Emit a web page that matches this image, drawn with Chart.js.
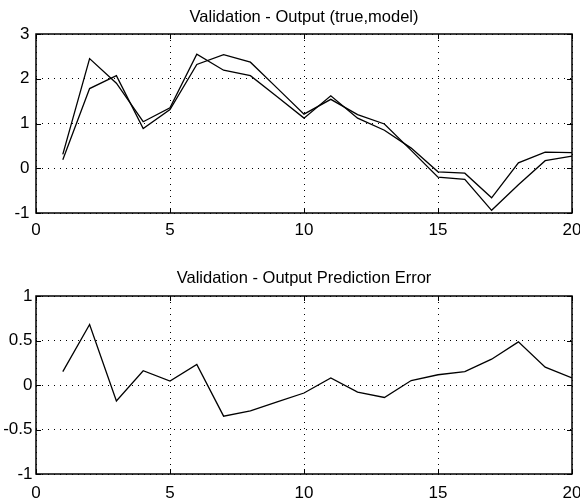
<!DOCTYPE html>
<html>
<head>
<meta charset="utf-8">
<script src="https://cdn.jsdelivr.net/npm/chart.js@4"></script>
<style>
  body { margin: 0; background: #fff; }
  canvas { position: absolute; left: 0; }
  #outChart { top: 0; }
  #errChart { top: 250px; }
</style>
</head>
<body>
<canvas id="outChart" width="580" height="250"></canvas>
<canvas id="errChart" width="580" height="249"></canvas>
<script>
const samples = [1, 2, 3, 4, 5, 6, 7, 8, 9, 10, 11, 12, 13, 14, 15, 16, 17, 18, 19, 20];
const trueOut = [0.31, 2.45, 1.90, 1.04, 1.35, 2.55, 2.19, 2.07, 1.60, 1.12, 1.62, 1.12, 0.85, 0.45, -0.08, -0.11, -0.66, 0.12, 0.36, 0.35];
const modelOut = [0.19, 1.78, 2.07, 0.89, 1.31, 2.32, 2.54, 2.37, 1.79, 1.21, 1.54, 1.20, 0.99, 0.40, -0.20, -0.25, -0.94, -0.37, 0.17, 0.27];
const predError = [0.15, 0.68, -0.18, 0.16, 0.045, 0.23, -0.35, -0.29, -0.19, -0.09, 0.08, -0.08, -0.14, 0.05, 0.115, 0.15, 0.29, 0.485, 0.20, 0.08];

const xTicks = [0, 5, 10, 15, 20];
const outTicks = [-1, 0, 1, 2, 3];
const errTicks = [-1, -0.5, 0, 0.5, 1];

const FONT = 'Liberation Sans, Arial, Helvetica, sans-serif';

const pts = ys => samples.map((s, i) => ({x: s, y: ys[i]}));

// box round the plot with small inward tick marks, matlab style
const frame = {
  id: 'frame',
  afterDatasetsDraw(chart) {
    const {ctx, chartArea: a, scales: {x, y}} = chart;
    ctx.save();
    ctx.strokeStyle = '#000';
    ctx.lineWidth = 1;
    ctx.beginPath();
    x.ticks.forEach(t => {
      const p = Math.round(x.getPixelForValue(t.value)) + 0.5;
      ctx.moveTo(p, a.bottom); ctx.lineTo(p, a.bottom - 5);
      ctx.moveTo(p, a.top); ctx.lineTo(p, a.top + 5);
    });
    y.ticks.forEach(t => {
      const p = Math.round(y.getPixelForValue(t.value)) + 0.5;
      ctx.moveTo(a.left, p); ctx.lineTo(a.left + 5, p);
      ctx.moveTo(a.right, p); ctx.lineTo(a.right - 5, p);
    });
    ctx.stroke();
    ctx.lineWidth = 1.5;
    ctx.strokeRect(a.left, a.top, a.right - a.left, a.bottom - a.top);
    ctx.restore();
  }
};

function makeConfig(datasets, title, yMin, yMax, yTicks, o) {
  return {
    type: 'line',
    data: { datasets: datasets },
    options: {
      responsive: false,
      animation: false,
      devicePixelRatio: 1,
      layout: { padding: { left: 0, right: 8, top: 0, bottom: 0 } },
      plugins: {
        legend: { display: false },
        tooltip: { enabled: false },
        title: {
          display: true,
          fullSize: false,
          text: title,
          color: '#000',
          font: { family: FONT, size: 16.5, weight: 'normal', lineHeight: 1.2 },
          padding: { top: o.titleTop, bottom: o.titleBottom }
        }
      },
      scales: {
        x: {
          type: 'linear',
          min: 0, max: 20,
          afterBuildTicks: s => { s.ticks = xTicks.map(v => ({value: v})); },
          afterFit: s => { s.height = o.xHeight; s.paddingLeft = 0; s.paddingRight = 0; },
          grid: { color: '#000', lineWidth: 1, drawTicks: false },
          border: { display: false, dash: [1, 5] },
          ticks: { color: '#000', padding: o.xPad, maxRotation: 0, font: { family: FONT, size: 17 } }
        },
        y: {
          min: yMin, max: yMax,
          afterBuildTicks: s => { s.ticks = yTicks.map(v => ({value: v})); },
          afterFit: s => { s.width = 36; },
          grid: { color: '#000', lineWidth: 1, drawTicks: false },
          border: { display: false, dash: [1, 5] },
          ticks: {
            color: '#000', padding: o.yPad, font: { family: FONT, size: 17 },
            callback: v => String(+v)
          }
        }
      }
    },
    plugins: [frame]
  };
}

const lineStyle = { borderColor: '#000', borderWidth: 1.3, pointRadius: 0, tension: 0, fill: false };

new Chart(document.getElementById('outChart'), makeConfig(
  [
    Object.assign({ label: 'true', data: pts(trueOut) }, lineStyle),
    Object.assign({ label: 'model', data: pts(modelOut) }, lineStyle)
  ],
  'Validation - Output (true,model)', -1, 3, outTicks,
  { titleTop: 7.1, titleBottom: 7.1, xHeight: 37, xPad: 7, yPad: 6.5 }
));

new Chart(document.getElementById('errChart'), makeConfig(
  [ Object.assign({ label: 'error', data: pts(predError) }, lineStyle) ],
  'Validation - Output Prediction Error', -1, 1, errTicks,
  { titleTop: 18.4, titleBottom: 7.8, xHeight: 25, xPad: 9, yPad: 3.5 }
));
</script>
</body>
</html>
